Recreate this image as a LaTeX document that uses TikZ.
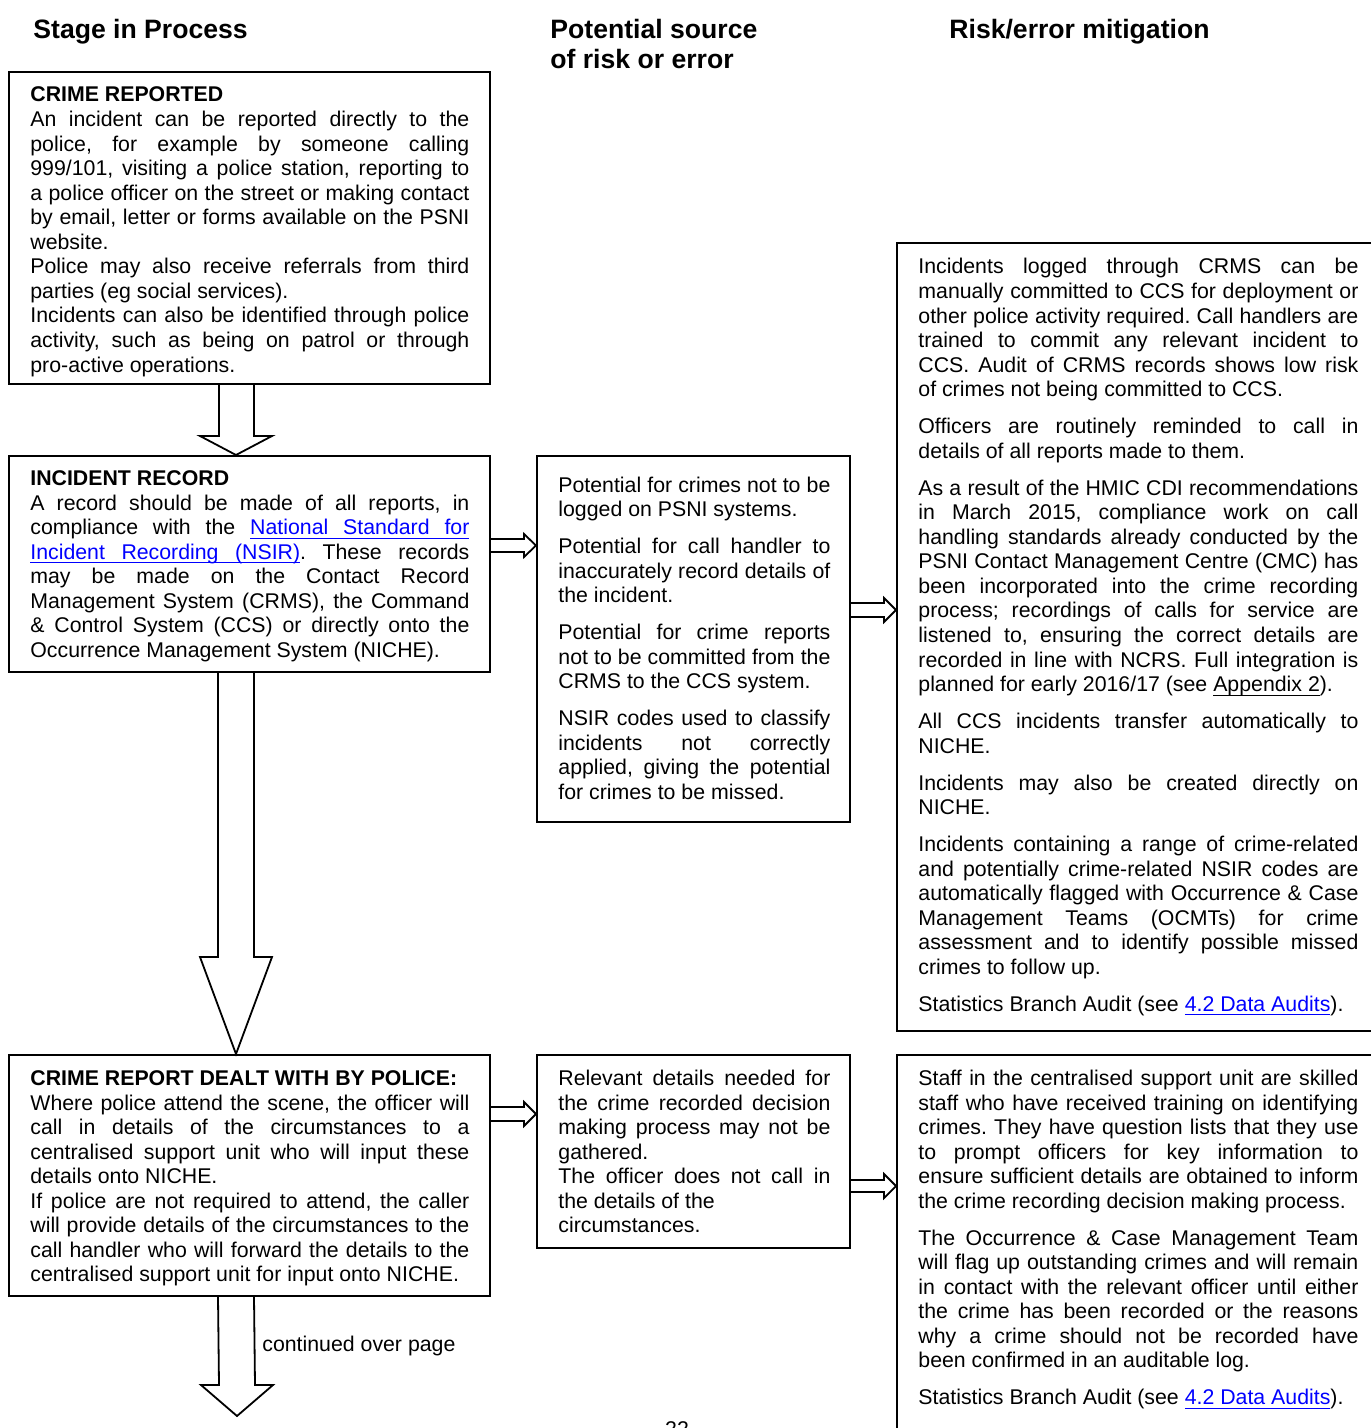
\documentclass[tikz,border=0pt]{standalone}
\usepackage{fontspec}
\setmainfont{Liberation Sans}
\usetikzlibrary{calc,fit}
\definecolor{linkblue}{RGB}{0,0,255}
\newcommand\ulw[1]{\setbox0\hbox{#1}\rlap{\rule[-2.1pt]{\wd0}{0.6pt}}\box0}
\newcommand\ulsp{\leaders\hrule height -1.5pt depth 2.1pt\hskip\fontdimen2\font plus\fontdimen3\font minus\fontdimen4\font}
\newcommand\psk{\setlength{\parskip}{6.2pt}\setlength{\parindent}{0pt}\frenchspacing}
\hyphenpenalty=10000
\exhyphenpenalty=10000
\frenchspacing
\begin{document}
\begin{tikzpicture}[x=0.5pt,y=-0.5pt,
  box/.style={draw, line width=1pt, inner sep=0pt},
  body/.style={anchor=base west, inner sep=0pt, align=justify,
    font=\fontsize{10.65pt}{12.275pt}\selectfont},
  lefttext/.style={body, text width=219.5pt},
  midtext/.style={body, text width=136pt},
  righttext/.style={body, text width=220pt},
  head/.style={anchor=base west, inner sep=0pt, font=\fontsize{13.3pt}{15pt}\selectfont\bfseries},
  barrow/.style={draw, line width=0.9pt, line join=miter}]
\useasboundingbox[fill=white] (0,0) rectangle (1370,1428);

% headings
\node[head] (h1) at (33,38.5) {Stage in Process};
\node[head] (h2) at (550,38.5) {Potential source};
\node[head] (h2b) at (550,68.5) {of risk or error};
\node[head] (h3) at (949,38.5) {Risk/error mitigation};

% boxes
\node[box, fit={(9,72) (490,384)}] (b1) {};
\node[box, fit={(9,456) (490,672)}] (b2) {};
\node[box, fit={(9,1055) (490,1296)}] (b3) {};
\node[box, fit={(537,456) (850,822)}] (m1) {};
\node[box, fit={(537,1055) (850,1248)}] (m2) {};
\node[box, fit={(897,243) (1400,1031)}] (r1) {};
\node[box, fit={(897,1055) (1400,1470)}] (r2) {};

% texts
\node[lefttext] (t1) at (30,102) {\psk\setlength{\parskip}{0pt}%
{\bfseries CRIME REPORTED}\par
An incident can be reported directly to the\linebreak
police, for example by someone calling\linebreak
999/101, visiting a police station, reporting to\linebreak
a police officer on the street or making contact\linebreak
by email, letter or forms available on the PSNI\linebreak
website.\par
Police may also receive referrals from third\linebreak
parties (eg social services).\par
Incidents can also be identified through police\linebreak
activity, such as being on patrol or through\linebreak
pro-active operations.};

\node[lefttext] (t2) at (30,485.5) {\psk\setlength{\parskip}{0pt}%
{\bfseries INCIDENT RECORD}\par
A record should be made of all reports, in\linebreak
compliance with the {\color{linkblue}\ulw{National}\ulsp\ulw{Standard}\ulsp\ulw{for}}\linebreak
{\color{linkblue}\ulw{Incident}\ulsp\ulw{Recording}\ulsp\ulw{(NSIR)}}. These records\linebreak
may be made on the Contact Record\linebreak
Management System (CRMS), the Command\linebreak
\& Control System (CCS) or directly onto the\linebreak
Occurrence Management System (NICHE).};

\node[lefttext] (t3) at (30,1085.5) {\psk\setlength{\parskip}{0pt}%
{\bfseries CRIME REPORT DEALT WITH BY POLICE:}\par
Where police attend the scene, the officer will\linebreak
call in details of the circumstances to a\linebreak
centralised support unit who will input these\linebreak
details onto NICHE.\par
If police are not required to attend, the caller\linebreak
will provide details of the circumstances to the\linebreak
call handler who will forward the details to the\linebreak
centralised support unit for input onto NICHE.};

\node[midtext] (t4) at (558,492) {\psk
Potential for crimes not to be\linebreak
logged on PSNI systems.\par
Potential for call handler to\linebreak
inaccurately record details of\linebreak
the incident.\par
Potential for crime reports\linebreak
not to be committed from the\linebreak
CRMS to the CCS system.\par
NSIR codes used to classify\linebreak
incidents not correctly\linebreak
applied, giving the potential\linebreak
for crimes to be missed.};

\node[midtext] (t5) at (558,1085.5) {\psk
Relevant details needed for\linebreak
the crime recorded decision\linebreak
making process may not be\linebreak
gathered.\newline
The officer does not call in\linebreak
the details of the\newline
circumstances.};

\node[righttext] (t6) at (918,274) {\psk
Incidents logged through CRMS can be\linebreak
manually committed to CCS for deployment or\linebreak
other police activity required. Call handlers are\linebreak
trained to commit any relevant incident to\linebreak
CCS. Audit of CRMS records shows low risk\linebreak
of crimes not being committed to CCS.\par
Officers are routinely reminded to call in\linebreak
details of all reports made to them.\par
As a result of the HMIC CDI recommendations\linebreak
in March 2015, compliance work on call\linebreak
handling standards already conducted by the\linebreak
PSNI Contact Management Centre (CMC) has\linebreak
been incorporated into the crime recording\linebreak
process; recordings of calls for service are\linebreak
listened to, ensuring the correct details are\linebreak
recorded in line with NCRS. Full integration is\linebreak
planned for early 2016/17 (see \ulw{Appendix}\ulsp\ulw{2}).\par
All CCS incidents transfer automatically to\linebreak
NICHE.\par
Incidents may also be created directly on\linebreak
NICHE.\par
Incidents containing a range of crime-related\linebreak
and potentially crime-related NSIR codes are\linebreak
automatically flagged with Occurrence \& Case\linebreak
Management Teams (OCMTs) for crime\linebreak
assessment and to identify possible missed\linebreak
crimes to follow up.\par
Statistics Branch Audit (see {\color{linkblue}\ulw{4.2}\ulsp\ulw{Data}\ulsp\ulw{Audits}}).};

\node[righttext] (t7) at (918,1085.5) {\psk
Staff in the centralised support unit are skilled\linebreak
staff who have received training on identifying\linebreak
crimes. They have question lists that they use\linebreak
to prompt officers for key information to\linebreak
ensure sufficient details are obtained to inform\linebreak
the crime recording decision making process.\par
The Occurrence \& Case Management Team\linebreak
will flag up outstanding crimes and will remain\linebreak
in contact with the relevant officer until either\linebreak
the crime has been recorded or the reasons\linebreak
why a crime should not be recorded have\linebreak
been confirmed in an auditable log.\par
Statistics Branch Audit (see {\color{linkblue}\ulw{4.2}\ulsp\ulw{Data}\ulsp\ulw{Audits}}).};

% down block arrows
\draw[barrow] ($(b1.south west)+(211,0)$) -- ($(b2.north west)+(211,-19)$)
  -- ($(b2.north west)+(192,-19)$) -- ($(b2.north west)+(228,0)$)
  -- ($(b2.north west)+(264,-19)$) -- ($(b2.north west)+(246,-19)$)
  -- ($(b1.south west)+(246,0)$);
\draw[barrow] ($(b2.south west)+(210,0)$) -- ($(b3.north west)+(210,-97)$)
  -- ($(b3.north west)+(192,-97)$) -- ($(b3.north west)+(228,0)$)
  -- ($(b3.north west)+(264,-97)$) -- ($(b3.north west)+(246,-97)$)
  -- ($(b2.south west)+(246,0)$);
\coordinate (cont) at (237,1416);
\draw[barrow] ($(b3.south west)+(210,0)$) -- ($(cont)+(-18,-31)$)
  -- ($(cont)+(-36,-31)$) -- (cont) -- ($(cont)+(36,-31)$)
  -- ($(cont)+(18,-31)$) -- ($(b3.south west)+(246,0)$);
\node[body] (cop) at (262,1351) {continued over page};

% right block arrows
\draw[barrow] ($(b2.north east)+(0,84)$) -- ($(m1.north west)+(-12,84)$)
  -- ($(m1.north west)+(-12,79)$) -- ($(m1.north west)+(0,90.5)$)
  -- ($(m1.north west)+(-12,102)$) -- ($(m1.north west)+(-12,97)$)
  -- ($(b2.north east)+(0,97)$);
\draw[barrow] ($(m1.north east)+(0,148)$) -- ($(r1.west |- m1.north)+(-12,148)$)
  -- ($(r1.west |- m1.north)+(-12,143)$) -- ($(r1.west |- m1.north)+(0,155)$)
  -- ($(r1.west |- m1.north)+(-12,167)$) -- ($(r1.west |- m1.north)+(-12,162)$)
  -- ($(m1.north east)+(0,162)$);
\draw[barrow] ($(b3.north east)+(0,53)$) -- ($(m2.north west)+(-12,53)$)
  -- ($(m2.north west)+(-12,48)$) -- ($(m2.north west)+(0,60)$)
  -- ($(m2.north west)+(-12,72)$) -- ($(m2.north west)+(-12,67)$)
  -- ($(b3.north east)+(0,67)$);
\draw[barrow] ($(m2.north east)+(0,126)$) -- ($(r2.north west)+(-12,126)$)
  -- ($(r2.north west)+(-12,120)$) -- ($(r2.north west)+(0,132)$)
  -- ($(r2.north west)+(-12,144)$) -- ($(r2.north west)+(-12,138)$)
  -- ($(m2.north east)+(0,138)$);

% page number (cut off at the page edge, as in the reference)
\node[body, anchor=base] (pg) at (677,1436) {22};
\end{tikzpicture}
\end{document}
